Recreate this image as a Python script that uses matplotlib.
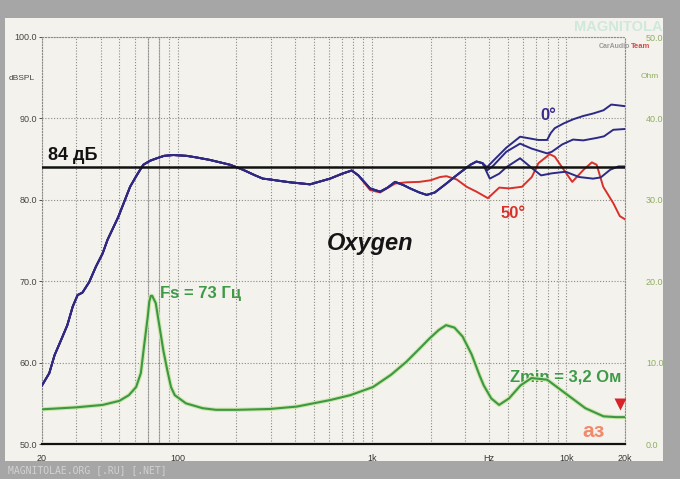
import matplotlib
matplotlib.use("Agg")
import matplotlib.pyplot as plt
from matplotlib.patches import Rectangle
from matplotlib.ticker import NullFormatter

plt.rcParams['font.family'] = ['Liberation Sans', 'DejaVu Sans']

# --- data ---
# shared low/mid part of the SPL curves (Hz, dB)
low_f = [20, 21.8, 23.2, 25.1, 27.0, 28.8, 30.5, 32.3, 35.0, 37.9, 41.0, 43.5, 49.4,
         56.8, 61.4, 66.4, 72, 77.9, 85, 94.8, 111, 125, 146, 186, 216, 250, 274,
         298, 328, 378, 479, 607, 700, 785]
low_db = [57.2, 58.7, 60.9, 62.8, 64.6, 66.9, 68.3, 68.6, 69.9, 71.8, 73.4, 75.1, 77.9,
          81.6, 83.0, 84.3, 84.8, 85.1, 85.4, 85.5, 85.4, 85.2, 84.9, 84.3, 83.7, 83.0, 82.6,
          82.5, 82.35, 82.15, 81.9, 82.6, 83.2, 83.6]

# blue (on axis / off axis) between 0.8 and 3.7 kHz
mid_f = [849, 975, 1099, 1200, 1312, 1450, 1567, 1750, 1909, 2100, 2235, 2410, 2650,
         2890, 3200, 3440, 3700]
mid_db = [83.0, 81.4, 81.0, 81.5, 82.2, 81.8, 81.4, 80.9, 80.6, 80.9, 81.4, 82.0, 82.8,
          83.5, 84.3, 84.7, 84.5]

top_f = [3900, 4200, 4900, 5770, 6600, 7170, 7950, 8300, 8700, 9700, 10850, 12200,
         13700, 15500, 17000, 18500, 20000]
top_db = [84.0, 84.8, 86.4, 87.75, 87.5, 87.35, 87.35, 88.2, 88.8, 89.4, 89.9, 90.3,
          90.6, 91.0, 91.7, 91.6, 91.5]

midc_f = [3900, 4200, 4900, 5770, 6600, 7950, 8400, 9500, 10800, 12200, 14300, 15600,
          17400, 20000]
midc_db = [83.6, 84.2, 85.9, 86.9, 86.3, 85.7, 85.9, 86.8, 87.4, 87.3, 87.6, 87.8,
           88.6, 88.7]

bot_f = [4030, 4500, 4900, 5770, 6630, 7400, 8400, 9900, 11600, 13700, 15000, 16800,
         18500, 20000]
bot_db = [82.6, 83.2, 84.0, 85.1, 83.9, 83.0, 83.25, 83.45, 82.8, 82.6, 82.75, 83.7,
          84.1, 84.1]

# 50 degrees (red)
red_f = [849, 975, 1099, 1312, 1507, 1750, 2000, 2235, 2410, 2723, 3062, 3440, 3940,
         4510, 5060, 5900, 6630, 7170, 8200, 8700, 9550, 10700, 12250, 13500, 14300,
         15450, 17400, 18800, 20000]
red_db = [83.0, 81.2, 80.9, 82.0, 82.15, 82.2, 82.4, 82.8, 82.9, 82.5, 81.6, 81.0, 80.2,
          81.5, 81.4, 81.6, 82.8, 84.5, 85.6, 85.3, 83.9, 82.2, 83.7, 84.6, 84.3,
          81.6, 79.6, 78.0, 77.6]

# impedance (Hz, Ohm)
imp_f = [20, 29.9, 41, 50, 56, 61, 64.5, 67, 70, 71.3, 72.6, 73.8, 77, 81, 84.2, 88.2,
         92.2, 96.4, 110, 134, 157, 202, 297, 410, 608, 772, 1010, 1250, 1500, 1750,
         1980, 2200, 2400, 2650, 2920, 3250, 3560, 3750, 4100, 4500, 5060, 5800, 6600,
         7950, 9900, 12500, 15500, 18000, 19800]
imp_ohm = [4.26, 4.5, 4.8, 5.3, 6.0, 7.0, 8.7, 12.0, 15.6, 17.5, 18.2, 18.2, 17.3, 14.0,
           11.5, 9.1, 7.0, 6.0, 5.0, 4.4, 4.2, 4.2, 4.3, 4.6, 5.4, 6.0, 7.0, 8.5, 10.1,
           11.7, 13.0, 14.0, 14.6, 14.3, 13.2, 11.0, 8.5, 7.2, 5.6, 4.8, 5.6, 7.2, 8.1,
           7.9, 6.2, 4.4, 3.4, 3.3, 3.3]

db_ticks = [50, 60, 70, 80, 90, 100]
ohm_ticks = [0, 10, 20, 30, 40, 50]
x_ticks = [20, 100, 1000, 4000, 10000, 20000]
x_labels = ['20', '100', '1k', 'Hz', '10k', '20k']

blue_top_f = low_f + mid_f + top_f
blue_top_db = low_db + mid_db + top_db
blue_mid_f = low_f + mid_f + midc_f
blue_mid_db = low_db + mid_db + midc_db
blue_bot_f = low_f + mid_f + bot_f
blue_bot_db = low_db + mid_db + bot_db
red_all_f = low_f + red_f
red_all_db = low_db + red_db

W, H = 680, 479
fig = plt.figure(figsize=(6.8, 4.79), dpi=100)
fig.patch.set_facecolor('#a6a6a6')
fig.patches.append(Rectangle((5 / W, 18 / H), 658 / W, 443 / H, transform=fig.transFigure,
                             facecolor='#f4f2ec', edgecolor='none', zorder=-5))

ax = fig.add_axes([42 / W, 35 / H, 583 / W, 407 / H])
ax.set_facecolor('none')
ax.set_xscale('log')
ax.set_xlim(20, 20000)
ax.set_ylim(50, 100)

gcol = '#8a8a8a'
ax.xaxis.grid(True, which='both', color=gcol, ls=(0, (1, 1.6)), lw=0.8)
ax.yaxis.grid(True, which='major', color=gcol, ls=(0, (1, 1.6)), lw=0.8)
# a couple of solid guide lines near Fs, as on the scan
for fx in [70, 80]:
    ax.axvline(fx, color='#b4b4b4', lw=0.8, zorder=0.5)
for s in ['left', 'top', 'right']:
    ax.spines[s].set_color(gcol)
    ax.spines[s].set_linestyle((0, (1, 1.6)))
    ax.spines[s].set_linewidth(0.8)
ax.spines['bottom'].set_color('#111111')
ax.spines['bottom'].set_linewidth(1.6)

ax.set_xticks(x_ticks)
ax.set_xticklabels(x_labels)
ax.xaxis.set_minor_formatter(NullFormatter())
ax.tick_params(axis='x', which='both', length=0, pad=7, labelsize=6.5, labelcolor='#333333')
ax.set_yticks(db_ticks)
ax.set_yticklabels(['%.1f' % v for v in db_ticks])
ax.tick_params(axis='y', length=2, width=0.6, color='#333333', pad=1.5, labelsize=6.5,
               labelcolor='#444444')

ax2 = ax.twinx()
ax2.set_ylim(0, 50)
for s in ax2.spines.values():
    s.set_visible(False)
ax2.set_yticks(ohm_ticks)
ax2.set_yticklabels(['%.1f' % v for v in ohm_ticks])
ax2.tick_params(axis='y', length=0, pad=15, labelsize=6.5, labelcolor='#8fae62')

# curves
ax.axhline(84, color='#111111', lw=1.8, zorder=4)
blue = '#2c2a86'
ax.plot(blue_bot_f, blue_bot_db, color=blue, lw=1.4, zorder=3)
ax.plot(blue_mid_f, blue_mid_db, color=blue, lw=1.4, zorder=3)
ax.plot(red_all_f, red_all_db, color='#d9302c', lw=1.4, zorder=2.5)
ax.plot(blue_top_f, blue_top_db, color=blue, lw=1.4, zorder=3)
ax2.plot(imp_f, imp_ohm, color='#cfe6a4', lw=3.0, zorder=2)
ax2.plot(imp_f, imp_ohm, color='#3b9848', lw=1.5, zorder=3)
ax2.plot([18870], [4.9], marker='v', ms=9, color='#d8232a', mec='none', zorder=4)

# labels
ax.text(21.5, 85.4, '84 дБ', fontsize=13, fontweight='bold', color='#111111', va='center')
ax.text(975, 74.6, 'Oxygen', fontsize=17, fontweight='bold', fontstyle='italic',
        color='#151515', ha='center', va='center')
ax.text(81, 68.5, 'Fs = 73 Гц', fontsize=12, fontweight='bold', color='#3f9a48', va='center')
ax.text(5130, 58.2, 'Zmin = 3,2 Ом', fontsize=12, fontweight='bold', color='#3f9a48',
        va='center')
ax.text(7300, 90.4, '0°', fontsize=12, fontweight='bold', color='#3b2a8c', va='center')
ax.text(4550, 78.3, '50°', fontsize=12, fontweight='bold', color='#d9302c', va='center')
ax.text(13700, 51.5, 'аз', fontsize=15, fontweight='bold', color='#f08a6c',
        ha='center', va='center')

fig.text(22 / W, 1 - 78 / H, 'dBSPL', fontsize=6, color='#444444', ha='center', va='center')
fig.text(650 / W, 1 - 77 / H, 'Ohm', fontsize=6, color='#8fae62', ha='center', va='center')
fig.text(618 / W, 1 - 27 / H, 'MAGNITOLA', fontsize=10.5, fontweight='bold', color='#cfe8dc',
         ha='center', va='center')
fig.text(630 / W, 1 - 47 / H, 'CarAudio', fontsize=5, fontweight='bold', color='#9a9a9a',
         ha='right', va='center')
fig.text(631 / W, 1 - 47 / H, 'Team', fontsize=5.5, fontweight='bold', color='#d84a4a',
         ha='left', va='center')
fig.text(8 / W, 1 - 470 / H, 'MAGNITOLAE.ORG [.RU] [.NET]', fontsize=7, family='DejaVu Sans Mono',
         color='#d2d2d2', ha='left', va='center')

fig.savefig('out.png', dpi=100, facecolor=fig.get_facecolor())
